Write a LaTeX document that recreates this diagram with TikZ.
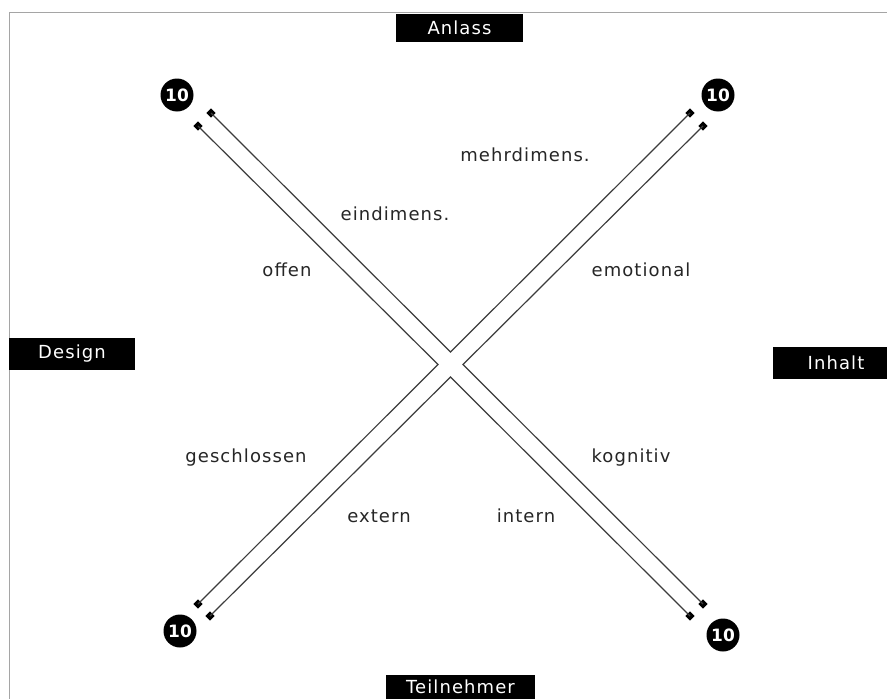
\documentclass[tikz,border=0pt]{standalone}
\usepackage{fontspec}
\newfontfamily\lbl{DejaVu Sans}[LetterSpace=6]
\newfontfamily\numf{DejaVu Sans}
\usetikzlibrary{shapes.geometric}
\definecolor{linegray}{RGB}{60,60,60}
\definecolor{framegray}{RGB}{165,165,165}
\tikzset{
  band/.style={draw=linegray, line width=1.2pt},
  tip/.style={diamond, fill=black, inner sep=0pt, minimum size=9.5pt},
  ten/.style={circle, fill=black, text=white, inner sep=0pt, minimum size=33pt, font=\numf\bfseries\fontsize{17}{17}\selectfont},
  axisbox/.style={fill=black, text=white, inner sep=0pt, font=\lbl\fontsize{18}{18}\selectfont},
  word/.style={text=black!85, inner sep=0pt, font=\lbl\fontsize{18}{18}\selectfont}
}
\begin{document}
\begin{tikzpicture}[x=1pt,y=-1pt]
\clip (0,0) rectangle (887,699);
\fill[white] (0,0) rectangle (887,699);
\draw[framegray, line width=1.5pt] (9.5,699) -- (9.5,12.5) -- (887,12.5);

% centre vertices
\coordinate (vt) at (450.5,352);
\coordinate (vl) at (438,364.5);
\coordinate (vr) at (463,364.5);
\coordinate (vb) at (450.5,377);

% arm ends
\node[tip] (ula) at (211,113) {};
\node[tip] (ulb) at (198,126) {};
\node[tip] (ura) at (690,113) {};
\node[tip] (urb) at (703,126) {};
\node[tip] (lla) at (198,604) {};
\node[tip] (llb) at (210,616) {};
\node[tip] (lra) at (703,604) {};
\node[tip] (lrb) at (690,616) {};

\draw[band] (ula.center) -- (vt) -- (ura.center);
\draw[band] (urb.center) -- (vr) -- (lra.center);
\draw[band] (lrb.center) -- (vb) -- (llb.center);
\draw[band] (lla.center) -- (vl) -- (ulb.center);

% circles
\node[ten] (c1) at (177,95) {10};
\node[ten] (c2) at (718,95) {10};
\node[ten] (c3) at (180,631) {10};
\node[ten] (c4) at (723,635) {10};

% axis boxes
\node[axisbox, minimum width=127pt, minimum height=28pt] (anlass) at (459.5,28) {Anlass};
\node[axisbox, minimum width=149pt, minimum height=24pt] (teil) at (460.5,687) {Teilnehmer};
\node[axisbox, minimum width=126pt, minimum height=32pt] (design) at (72,354) {Design};
\node[axisbox, minimum width=126pt, minimum height=32pt] (inhalt) at (836,363) {Inhalt};

% words
\node[word] (w1) at (525,155) {mehrdimens.};
\node[word] (w2) at (395,214) {eindimens.};
\node[word] (w3) at (287,270) {offen};
\node[word] (w4) at (641,270) {emotional};
\node[word] (w5) at (246,458) {geschlossen};
\node[word] (w6) at (631,458) {kognitiv};
\node[word] (w7) at (379,516) {extern};
\node[word] (w8) at (526,516) {intern};
\end{tikzpicture}
\end{document}
